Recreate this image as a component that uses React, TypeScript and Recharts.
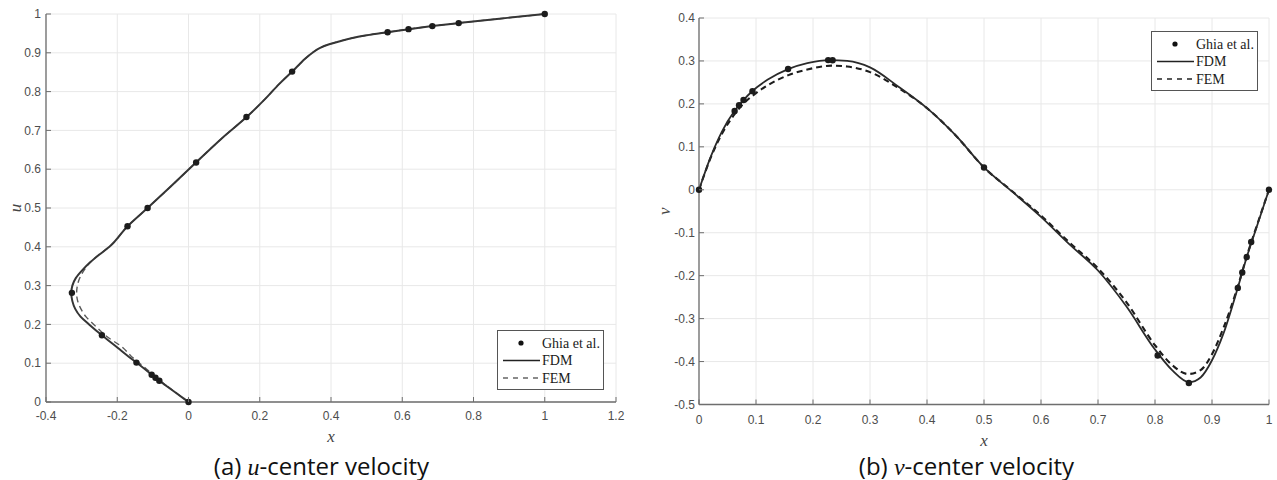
import {
  ComposedChart,
  Line,
  Scatter,
  XAxis,
  YAxis,
  CartesianGrid,
  Label,
} from "recharts";

// ---- (a) u along the vertical centre line (horizontal axis = u, vertical = y) ----
const ghiaUy = [0, 0.0547, 0.0625, 0.0703, 0.1016, 0.1719, 0.2813, 0.4531, 0.5, 0.6172, 0.7344, 0.8516, 0.9531, 0.9609, 0.9688, 0.9766, 1];
const ghiaU = [0, -0.0819, -0.0927, -0.1034, -0.1461, -0.243, -0.3273, -0.1712, -0.1148, 0.0214, 0.1626, 0.2909, 0.5589, 0.6176, 0.6844, 0.7584, 1];

const fdmUy = [0, 0.02, 0.04, 0.0547, 0.0703, 0.085, 0.1016, 0.12, 0.14, 0.1719, 0.2, 0.22, 0.24, 0.26, 0.2813, 0.3, 0.32, 0.34, 0.36, 0.38, 0.4, 0.4531, 0.5, 0.55, 0.6172, 0.68, 0.7344, 0.78, 0.82, 0.8516, 0.87, 0.885, 0.9, 0.912, 0.922, 0.93, 0.938, 0.945, 0.9531, 0.9609, 0.9688, 0.9766, 0.99, 1];
const fdmU = [0, -0.03, -0.06, -0.082, -0.103, -0.123, -0.146, -0.172, -0.199, -0.243, -0.279, -0.303, -0.318, -0.326, -0.329, -0.326, -0.316, -0.298, -0.276, -0.25, -0.222, -0.171, -0.115, -0.056, 0.021, 0.094, 0.163, 0.214, 0.255, 0.291, 0.311, 0.328, 0.348, 0.368, 0.395, 0.425, 0.46, 0.5, 0.559, 0.618, 0.684, 0.758, 0.895, 1];

const femUy = [0, 0.02, 0.04, 0.0547, 0.0703, 0.085, 0.1016, 0.12, 0.14, 0.17, 0.2, 0.22, 0.24, 0.26, 0.28, 0.3, 0.32, 0.34, 0.36, 0.38, 0.4, 0.4531, 0.5, 0.55, 0.6172, 0.68, 0.7344, 0.78, 0.82, 0.8516, 0.87, 0.885, 0.9, 0.912, 0.922, 0.93, 0.938, 0.945, 0.9531, 0.9609, 0.9688, 0.9766, 0.99, 1];
const femU = [0, -0.029, -0.058, -0.079, -0.099, -0.118, -0.14, -0.163, -0.184, -0.231, -0.266, -0.288, -0.302, -0.311, -0.314, -0.312, -0.305, -0.293, -0.276, -0.251, -0.222, -0.171, -0.115, -0.056, 0.021, 0.094, 0.163, 0.214, 0.255, 0.291, 0.311, 0.328, 0.348, 0.368, 0.395, 0.425, 0.46, 0.5, 0.559, 0.618, 0.684, 0.758, 0.895, 1];

const uXTicks = [-0.4, -0.2, 0, 0.2, 0.4, 0.6, 0.8, 1, 1.2];
const uYTicks = [0, 0.1, 0.2, 0.3, 0.4, 0.5, 0.6, 0.7, 0.8, 0.9, 1];

// ---- (b) v along the horizontal centre line ----
const ghiaVx = [0, 0.0625, 0.0703, 0.0781, 0.0938, 0.1563, 0.2266, 0.2344, 0.5, 0.8047, 0.8594, 0.9453, 0.9531, 0.9609, 0.9688, 1];
const ghiaV = [0, 0.1836, 0.1971, 0.2092, 0.2297, 0.2812, 0.302, 0.3017, 0.0519, -0.386, -0.4499, -0.2285, -0.1925, -0.1566, -0.1215, 0];

const fdmVx = [0, 0.02, 0.04, 0.0625, 0.0781, 0.0938, 0.12, 0.1563, 0.19, 0.23, 0.26, 0.3, 0.35, 0.4, 0.45, 0.5, 0.55, 0.6, 0.65, 0.7, 0.75, 0.8, 0.83, 0.86, 0.88, 0.9, 0.92, 0.9453, 0.9609, 0.975, 1];
const fdmV = [0, 0.075, 0.135, 0.184, 0.209, 0.23, 0.256, 0.281, 0.295, 0.302, 0.3, 0.285, 0.24, 0.19, 0.127, 0.052, -0.005, -0.063, -0.127, -0.188, -0.272, -0.372, -0.42, -0.448, -0.437, -0.397, -0.335, -0.228, -0.157, -0.1, 0];

const femVx = [0, 0.02, 0.04, 0.0625, 0.08, 0.1, 0.12, 0.157, 0.19, 0.233, 0.26, 0.3, 0.35, 0.4, 0.45, 0.5, 0.55, 0.6, 0.65, 0.7, 0.75, 0.8, 0.83, 0.858, 0.88, 0.9, 0.92, 0.9453, 0.9609, 0.975, 1];
const femV = [0, 0.073, 0.13, 0.176, 0.203, 0.225, 0.243, 0.267, 0.28, 0.289, 0.287, 0.274, 0.237, 0.19, 0.127, 0.052, -0.004, -0.06, -0.123, -0.183, -0.262, -0.362, -0.408, -0.429, -0.42, -0.383, -0.322, -0.225, -0.155, -0.098, 0];

const vXTicks = [0, 0.1, 0.2, 0.3, 0.4, 0.5, 0.6, 0.7, 0.8, 0.9, 1];
const vYTicks = [-0.5, -0.4, -0.3, -0.2, -0.1, 0, 0.1, 0.2, 0.3, 0.4];

const legendItems = [
  { name: "Ghia et al.", kind: "dot" },
  { name: "FDM", kind: "solid" },
  { name: "FEM", kind: "dash" },
];

type Pt = { x: number; y: number };
const zip = (xs: number[], ys: number[]): Pt[] => xs.map((x, i) => ({ x, y: ys[i] }));

const AXIS = "#6e6e6e";
const GRID = "#e8e8e8";
const TICK_TXT = "#4d4d4d";
const TICK_FONT = "'Liberation Sans', Arial, sans-serif";
const SERIF = "'Liberation Serif', 'Times New Roman', serif";

// MATLAB-style ticks: labels outside, tick marks pointing into the box
const bottomTick = (gap: number) => (p: any) => (
  <g>
    <line x1={p.x} x2={p.x} y1={p.y - gap} y2={p.y - gap - 5} stroke={AXIS} />
    <text x={p.x} y={p.y} dy="0.71em" textAnchor="middle" fill={TICK_TXT} fontSize={12} fontFamily={TICK_FONT}>
      {p.payload.value}
    </text>
  </g>
);
const leftTick = (gap: number) => (p: any) => (
  <g>
    <line x1={p.x + gap} x2={p.x + gap + 5} y1={p.y} y2={p.y} stroke={AXIS} />
    <text x={p.x} y={p.y} dy="0.355em" textAnchor="end" fill={TICK_TXT} fontSize={12} fontFamily={TICK_FONT}>
      {p.payload.value}
    </text>
  </g>
);
const topTick = (p: any) => <line x1={p.x} x2={p.x} y1={p.y} y2={p.y + 5} stroke={AXIS} />;
const rightTick = (p: any) => <line x1={p.x} x2={p.x - 5} y1={p.y} y2={p.y} stroke={AXIS} />;

interface PanelProps {
  width: number;
  margin: { top: number; right: number; bottom: number; left: number };
  yAxisWidth: number;
  fdm: Pt[];
  fem: Pt[];
  ghia: Pt[];
  xDomain: [number, number];
  yDomain: [number, number];
  xTicks: number[];
  yTicks: number[];
  xGap: number;
  yGap: number;
  xLabel: string;
  yLabel: string;
  xLabelOffset: number;
  yLabelOffset: number;
  curve: "monotoneY" | "monotone";
  solid: { color: string; width: number };
  dash: { color: string; width: number; pattern: string };
}

function Panel(p: PanelProps) {
  const axisLine = { stroke: AXIS, strokeWidth: 1.3 };
  return (
    <ComposedChart width={p.width} height={480} margin={p.margin}>
      <CartesianGrid stroke={GRID} />
      <XAxis
        dataKey="x"
        type="number"
        domain={p.xDomain}
        ticks={p.xTicks}
        interval={0}
        height={30}
        tickSize={0}
        tickMargin={p.xGap}
        tickLine={false}
        tick={bottomTick(p.xGap)}
        axisLine={axisLine}
      >
        <Label
          value={p.xLabel}
          position="bottom"
          offset={p.xLabelOffset}
          style={{ fontFamily: SERIF, fontStyle: "italic", fontSize: 17, fill: "#444" }}
        />
      </XAxis>
      <XAxis
        xAxisId="top"
        orientation="top"
        type="number"
        domain={p.xDomain}
        ticks={p.xTicks}
        interval={0}
        height={0}
        tickSize={0}
        tickMargin={0}
        tickLine={false}
        tick={topTick}
        axisLine={axisLine}
        allowDataOverflow
      />
      <YAxis
        dataKey="y"
        type="number"
        domain={p.yDomain}
        ticks={p.yTicks}
        interval={0}
        width={p.yAxisWidth}
        tickSize={0}
        tickMargin={p.yGap}
        tickLine={false}
        tick={leftTick(p.yGap)}
        axisLine={axisLine}
      >
        <Label
          value={p.yLabel}
          angle={-90}
          position="insideLeft"
          offset={p.yLabelOffset}
          textAnchor="middle"
          style={{ fontFamily: SERIF, fontStyle: "italic", fontSize: 17, fill: "#444" }}
        />
      </YAxis>
      <YAxis
        yAxisId="right"
        orientation="right"
        type="number"
        domain={p.yDomain}
        ticks={p.yTicks}
        interval={0}
        width={0}
        tickSize={0}
        tickMargin={0}
        tickLine={false}
        tick={rightTick}
        axisLine={axisLine}
        allowDataOverflow
      />
      <Line
        data={p.fem}
        dataKey="y"
        type={p.curve}
        stroke={p.dash.color}
        strokeWidth={p.dash.width}
        strokeDasharray={p.dash.pattern}
        dot={false}
        activeDot={false}
        isAnimationActive={false}
      />
      <Line
        data={p.fdm}
        dataKey="y"
        type={p.curve}
        stroke={p.solid.color}
        strokeWidth={p.solid.width}
        dot={false}
        activeDot={false}
        isAnimationActive={false}
      />
      <Scatter
        data={p.ghia}
        isAnimationActive={false}
        shape={(s: any) => <circle cx={s.cx} cy={s.cy} r={3.2} fill="#1c1c1c" />}
      />
    </ComposedChart>
  );
}

function LegendBox({ left, top, dashColor }: { left: number; top: number; dashColor: string }) {
  return (
    <svg width={107} height={60} style={{ position: "absolute", left, top }}>
      <rect x={0.5} y={0.5} width={106} height={59} fill="#fff" stroke="#555" />
      {legendItems.map((it, i) => {
        const cy = 13 + i * 17.5;
        return (
          <g key={it.name}>
            {it.kind === "dot" && <circle cx={24} cy={cy} r={2.6} fill="#111" />}
            {it.kind === "solid" && <line x1={6} x2={43} y1={cy} y2={cy} stroke="#222" strokeWidth={1.4} />}
            {it.kind === "dash" && (
              <line x1={6} x2={43} y1={cy} y2={cy} stroke={dashColor} strokeWidth={1.4} strokeDasharray="5 5" />
            )}
            <text x={45} y={cy} dy="0.35em" fontFamily={SERIF} fontSize={14} fill="#1a1a1a">
              {it.name}
            </text>
          </g>
        );
      })}
    </svg>
  );
}

const captionStyle = {
  position: "absolute" as const,
  top: 452.5,
  width: 300,
  textAlign: "center" as const,
  fontFamily: "'Open Sans', sans-serif",
  fontSize: 24,
  lineHeight: "26px",
  color: "#111",
  whiteSpace: "nowrap" as const,
};
const mathItalic = { fontFamily: SERIF, fontStyle: "italic" as const };

export default function App() {
  return (
    <div style={{ position: "absolute", left: 0, top: 0, width: 1277, height: 480, background: "#fff", overflow: "hidden" }}>
      <div style={{ position: "absolute", left: 0, top: 0 }}>
        <Panel
          width={640}
          margin={{ top: 14, right: 24, bottom: 48, left: 0 }}
          yAxisWidth={46}
          fdm={zip(fdmU, fdmUy)}
          fem={zip(femU, femUy)}
          ghia={zip(ghiaU, ghiaUy)}
          xDomain={[-0.4, 1.2]}
          yDomain={[0, 1]}
          xTicks={uXTicks}
          yTicks={uYTicks}
          xGap={9}
          yGap={5}
          xLabel="x"
          yLabel="u"
          xLabelOffset={-2}
          yLabelOffset={15}
          curve="monotoneY"
          solid={{ color: "#353535", width: 2 }}
          dash={{ color: "#5a5a5a", width: 1.4, pattern: "6 4" }}
        />
      </div>
      <div style={{ position: "absolute", left: 640, top: 0 }}>
        <Panel
          width={637}
          margin={{ top: 18, right: 8, bottom: 45.5, left: 0 }}
          yAxisWidth={59}
          fdm={zip(fdmVx, fdmV)}
          fem={zip(femVx, femV)}
          ghia={zip(ghiaVx, ghiaV)}
          xDomain={[0, 1]}
          yDomain={[-0.5, 0.4]}
          xTicks={vXTicks}
          yTicks={vYTicks}
          xGap={10.5}
          yGap={4}
          xLabel="x"
          yLabel="v"
          xLabelOffset={-1}
          yLabelOffset={24}
          curve="monotone"
          solid={{ color: "#2a2a2a", width: 1.8 }}
          dash={{ color: "#1c1c1c", width: 2.1, pattern: "6 4" }}
        />
      </div>
      <LegendBox left={497} top={330} dashColor="#666" />
      <LegendBox left={1151} top={31} dashColor="#222" />
      <div style={{ ...captionStyle, left: 321.5 - 150 }}>
        (a) <span style={mathItalic}>u</span>-center velocity
      </div>
      <div style={{ ...captionStyle, left: 966.5 - 150 }}>
        (b) <span style={mathItalic}>v</span>-center velocity
      </div>
    </div>
  );
}
